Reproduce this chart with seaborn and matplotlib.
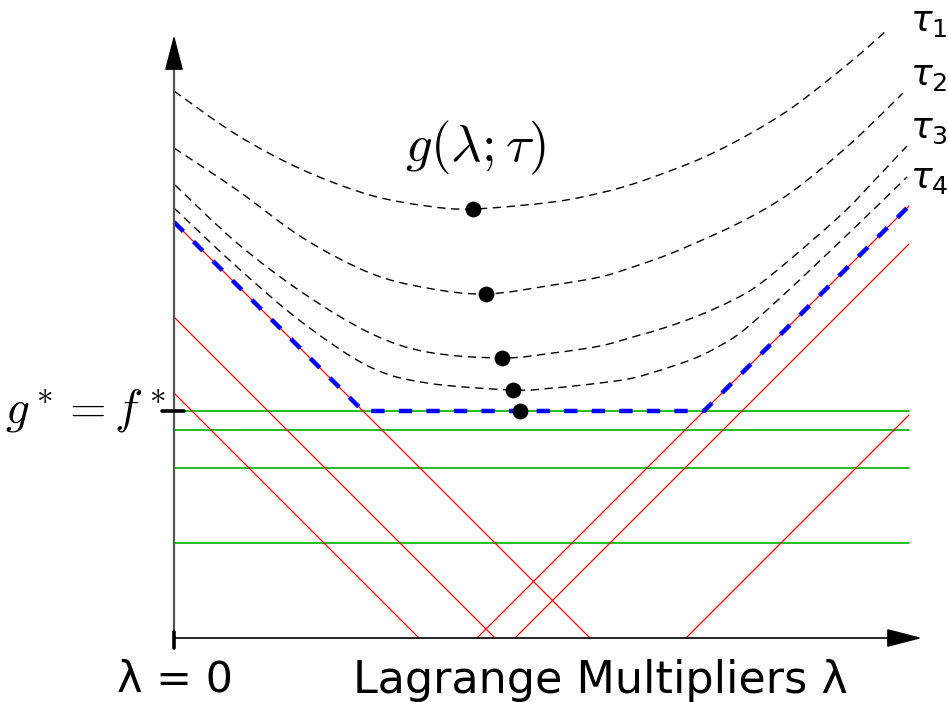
import numpy as np
import matplotlib
matplotlib.use("Agg")
import matplotlib.pyplot as plt
from matplotlib.path import Path
from matplotlib.patches import PathPatch
import seaborn as sns

# lines f_i(lambda) (plot units: 1 = 100 px)
dec_intercepts = [4.16, 3.21, 2.45]      # v = a - u
inc_roots = [3.03, 3.41, 5.12]           # v = u - b
flat_levels = [2.27, 2.08, 1.70, 0.95]   # v = c
u_end = 7.35

# smoothed curves g(lambda; tau)
tau1_u = [0.00, 0.63, 1.29, 1.96, 2.53, 2.99, 3.79, 4.26, 4.59, 4.93, 5.26, 5.59, 5.91, 6.19, 6.53, 6.86, 7.13]
tau1_v = [5.47, 5.03, 4.68, 4.43, 4.32, 4.29, 4.36, 4.45, 4.54, 4.66, 4.79, 4.95, 5.13, 5.31, 5.57, 5.84, 6.08]
tau2_u = [0.00, 0.63, 1.29, 1.96, 2.53, 3.12, 3.79, 4.26, 4.59, 4.93, 5.26, 5.59, 5.91, 6.19, 6.53, 6.86, 7.29]
tau2_v = [4.90, 4.48, 4.00, 3.65, 3.50, 3.44, 3.53, 3.61, 3.71, 3.83, 3.97, 4.12, 4.29, 4.47, 4.74, 5.03, 5.45]
tau3_u = [0.01, 0.63, 1.29, 1.96, 2.53, 3.28, 3.79, 4.26, 4.59, 4.93, 5.26, 5.59, 5.83, 6.19, 6.69, 6.99, 7.33]
tau3_v = [4.53, 3.95, 3.45, 3.05, 2.86, 2.80, 2.85, 2.92, 3.01, 3.11, 3.23, 3.38, 3.52, 3.81, 4.25, 4.56, 4.92]
tau4_u = [0.00, 0.63, 1.29, 1.96, 2.53, 3.39, 3.79, 4.26, 4.59, 4.93, 5.26, 5.59, 5.84, 6.33, 6.99, 7.33]
tau4_v = [4.30, 3.71, 3.15, 2.71, 2.55, 2.48, 2.50, 2.55, 2.60, 2.70, 2.82, 3.00, 3.20, 3.65, 4.28, 4.61]

# minimisers of each curve (last one is the true max)
min_u = [2.99, 3.12, 3.28, 3.39, 3.46]
min_v = [4.29, 3.44, 2.80, 2.48, 2.27]

tau_labels = [r"$\tau_1$", r"$\tau_2$", r"$\tau_3$", r"$\tau_4$"]
tau_label_v = [6.07, 5.53, 5.00, 4.50]


def smooth_path(xs, ys):
    # bezier path through the sampled points (catmull-rom style handles)
    pts = np.column_stack([xs, ys])
    ext = np.vstack([pts[0], pts, pts[-1]])
    verts = [pts[0]]
    codes = [Path.MOVETO]
    for i in range(len(pts) - 1):
        p0, p1, p2, p3 = ext[i], ext[i + 1], ext[i + 2], ext[i + 3]
        verts += [p1 + (p2 - p0) / 6, p2 - (p3 - p1) / 6, p2]
        codes += [Path.CURVE4] * 3
    return Path(verts, codes)


sns.set_theme(style="white")

fig = plt.figure(figsize=(9.48, 7.02), dpi=100)
ax = fig.add_axes([0, 0, 1, 1])
ax.set_xlim(-1.74, 7.74)
ax.set_ylim(-0.64, 6.38)
ax.axis("off")

green = "#00b000"
red = "#ff0000"

for c in flat_levels:
    sns.lineplot(x=[0, u_end], y=[c, c], color=green, lw=1.2, ax=ax)
for a in dec_intercepts:
    sns.lineplot(x=[0, a], y=[a, 0], color=red, lw=0.9, ax=ax)
for b in inc_roots:
    sns.lineplot(x=[b, u_end], y=[0, u_end - b], color=red, lw=0.9, ax=ax)

# upper envelope = max of all the lines
grid = np.linspace(0, u_end, 736)
funcs = [a - grid for a in dec_intercepts] + [grid - b for b in inc_roots] + [np.full_like(grid, c) for c in flat_levels]
env = np.max(np.vstack(funcs), axis=0)
ax.plot(grid, env, color="#0000ff", lw=3.2, dashes=(3.0, 3.2), zorder=4)

for uu, vv in [(tau1_u, tau1_v), (tau2_u, tau2_v), (tau3_u, tau3_v), (tau4_u, tau4_v)]:
    ax.add_patch(PathPatch(smooth_path(uu, vv), fill=False, edgecolor="black",
                           lw=1.0, linestyle=(0, (6, 4)), zorder=5))

sns.scatterplot(x=min_u, y=min_v, color="black", s=130, edgecolor="black", linewidth=0, ax=ax, zorder=6)

# axes
head = "-|>,head_length=0.85,head_width=0.22"
ax.plot([0, 0], [-0.10, 5.9], color="#555555", lw=1.6, zorder=7)
ax.annotate("", xy=(0, 6.03), xytext=(0, 5.7),
            arrowprops=dict(arrowstyle=head, color="black", lw=1.2, mutation_scale=26,
                            shrinkA=0, shrinkB=0), zorder=8)
ax.annotate("", xy=(7.48, 0), xytext=(0, 0),
            arrowprops=dict(arrowstyle=head, color="black", lw=1.2, mutation_scale=26,
                            shrinkA=0, shrinkB=0), zorder=8)
ax.plot([0, 0], [-0.10, 0.06], color="black", lw=2.6, zorder=8)
ax.plot([-0.12, 0.10], [flat_levels[0], flat_levels[0]], color="black", lw=2.6, zorder=8)

# labels
ax.text(3.01, 4.90, r"$g(\lambda;\tau)$", fontsize=38, math_fontfamily="cm",
        ha="center", va="center", color="black")
ax.text(-0.08, 2.28, r"$g^* = f^*$", fontsize=34, math_fontfamily="cm",
        ha="right", va="center", color="black")
ax.text(0.01, -0.42, "λ = 0", fontsize=31, ha="center", va="center", color="black")
ax.text(4.26, -0.42, "Lagrange Multipliers λ", fontsize=32, ha="center", va="center", color="black")
for lab, vv in zip(tau_labels, tau_label_v):
    ax.text(7.36, vv, lab, fontsize=26, ha="left", va="baseline", color="black")

fig.savefig("out.png", dpi=100)
